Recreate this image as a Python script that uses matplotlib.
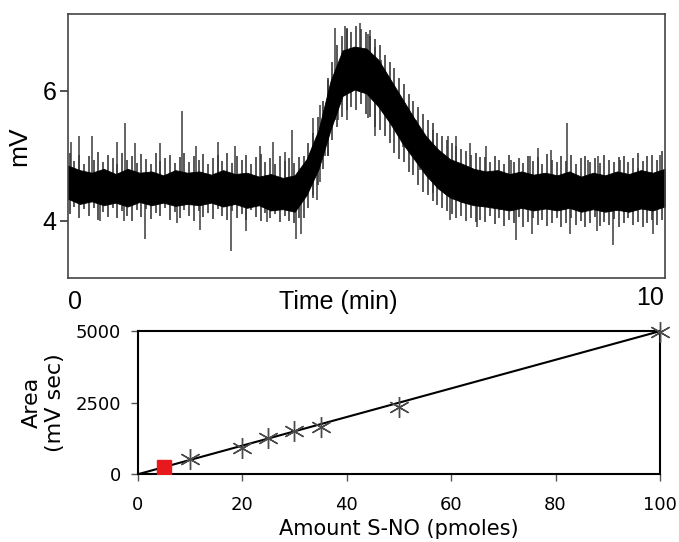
import numpy as np
import matplotlib
matplotlib.use("Agg")
import matplotlib.pyplot as plt

# --- top trace: dense core of the signal (min, mV) ---
core_t = [0.0, 0.2, 0.4, 0.6, 0.8, 1.0, 1.2, 1.4, 1.6, 1.8, 2.0, 2.2, 2.4, 2.6, 2.8,
          3.0, 3.2, 3.4, 3.6, 3.8, 4.0, 4.2, 4.4, 4.6, 4.8, 5.0, 5.2, 5.4, 5.6, 5.8,
          6.0, 6.2, 6.4, 6.6, 6.8, 7.0, 7.2, 7.4, 7.6, 7.8, 8.0, 8.2, 8.4, 8.6, 8.8,
          9.0, 9.2, 9.4, 9.6, 9.8, 10.0]
core_hi = [4.85, 4.78, 4.74, 4.80, 4.72, 4.80, 4.74, 4.76, 4.70, 4.78, 4.74, 4.76, 4.71, 4.78, 4.72,
           4.74, 4.68, 4.72, 4.66, 4.70, 4.95, 5.40, 6.15, 6.62, 6.68, 6.65, 6.48, 6.18, 5.88, 5.58,
           5.30, 5.10, 4.95, 4.88, 4.80, 4.76, 4.78, 4.72, 4.76, 4.71, 4.74, 4.70, 4.76, 4.68, 4.74,
           4.70, 4.76, 4.72, 4.78, 4.74, 4.80]
core_lo = [4.34, 4.26, 4.30, 4.24, 4.28, 4.22, 4.29, 4.24, 4.28, 4.23, 4.26, 4.24, 4.28, 4.22, 4.26,
           4.20, 4.24, 4.16, 4.18, 4.14, 4.40, 4.80, 5.40, 5.92, 6.02, 5.96, 5.76, 5.50, 5.20, 4.95,
           4.70, 4.50, 4.36, 4.29, 4.24, 4.22, 4.19, 4.16, 4.20, 4.16, 4.19, 4.16, 4.20, 4.14, 4.18,
           4.14, 4.17, 4.14, 4.19, 4.16, 4.22]

# --- top trace: fringe of short strokes around the core (min, low mV, high mV) ---
fringe_t = [0.03, 0.11, 0.19, 0.27, 0.35, 0.43, 0.51, 0.59, 0.67, 0.75, 0.83, 0.91, 0.99, 1.07,
            1.15, 1.23, 1.31, 1.39, 1.47, 1.55, 1.63, 1.71, 1.79, 1.87, 1.95, 2.03, 2.11, 2.19,
            2.27, 2.35, 2.43, 2.51, 2.59, 2.67, 2.75, 2.83, 2.91, 2.99, 3.07, 3.15, 3.23, 3.31,
            3.39, 3.47, 3.55, 3.63, 3.71, 3.79, 3.87,
            3.95, 4.03, 4.11, 4.19, 4.27, 4.35, 4.43, 4.51, 4.59, 4.67, 4.75, 4.83, 4.91, 4.99,
            5.07, 5.15, 5.23, 5.31, 5.39, 5.47, 5.55, 5.63, 5.71, 5.79, 5.87, 5.95, 6.03, 6.11,
            6.19, 6.27, 6.35, 6.43, 6.51, 6.59, 6.67, 6.75, 6.83, 6.91,
            6.99, 7.07, 7.15, 7.23, 7.31, 7.39, 7.47, 7.55, 7.63, 7.71, 7.79, 7.87, 7.95, 8.03,
            8.11, 8.19, 8.27, 8.35, 8.43, 8.51, 8.59, 8.67, 8.75, 8.83, 8.91, 8.99, 9.07, 9.15,
            9.23, 9.31, 9.39, 9.47, 9.55, 9.63, 9.71, 9.79, 9.87, 9.95]
fringe_lo = [4.10, 4.22, 4.05, 4.18, 4.08, 4.20, 4.02, 4.14, 4.06, 4.19, 4.04, 4.15, 4.08, 4.00,
             4.16, 4.06, 4.18, 4.03, 4.12, 4.07, 4.20, 4.02, 4.13, 4.05, 4.17, 4.08, 4.00, 4.15,
             4.06, 4.12, 4.03, 4.18, 4.07, 4.01, 4.15, 4.05, 4.11, 4.02, 4.16, 4.06, 4.00, 4.12,
             4.04, 4.10, 3.98, 4.08, 4.00, 3.96, 4.04,
             4.05, 4.20, 4.35, 4.55, 4.80, 5.00, 5.25, 5.45, 5.60, 5.70, 5.75, 5.70, 5.80, 5.65,
             5.60, 5.45, 5.40, 5.30, 5.20, 5.05, 4.95, 4.90, 4.75, 4.70, 4.55, 4.45, 4.40, 4.30,
             4.25, 4.20, 4.15, 4.10, 4.05, 4.08, 4.00, 4.05, 3.98, 4.02,
             3.98, 4.08, 3.95, 4.04, 3.92, 4.02, 3.96, 4.06, 3.90, 3.98, 4.05, 3.94, 4.02, 3.92,
             3.97, 4.05, 3.90, 3.96, 4.04, 3.93, 3.99, 3.91, 3.97, 4.06, 3.92, 3.98, 3.94, 4.03,
             3.90, 3.96, 4.04, 3.93, 3.98, 3.91, 3.97, 4.02, 3.94, 4.02]
fringe_hi = [5.05, 4.92, 5.02, 4.88, 5.00, 4.94, 5.06, 4.90, 5.01, 4.96, 4.88, 5.04, 4.93, 5.00,
             4.89, 5.03, 4.95, 4.88, 5.05, 4.92, 4.97, 5.02, 4.89, 4.98, 5.04, 4.90, 5.00, 4.93,
             5.03, 4.88, 4.97, 5.01, 4.92, 5.05, 4.89, 4.99, 4.93, 5.02, 4.88, 4.98, 5.03, 4.90,
             4.96, 4.87, 5.00, 4.92, 4.97, 4.89, 4.98,
             5.00, 5.20, 5.35, 5.60, 5.85, 6.20, 6.45, 6.70, 6.85, 6.95, 6.90, 7.00, 6.95, 6.90,
             6.85, 6.80, 6.70, 6.55, 6.45, 6.35, 6.20, 6.10, 5.95, 5.85, 5.75, 5.65, 5.55, 5.50,
             5.35, 5.30, 5.25, 5.20, 5.15, 5.10, 5.08, 5.02, 5.05, 4.98,
             4.98, 4.90, 5.00, 4.93, 4.88, 5.02, 4.91, 4.97, 4.89, 5.00, 4.92, 4.98, 4.88, 5.03,
             4.93, 4.90, 4.99, 4.92, 5.01, 4.88, 4.96, 5.00, 4.91, 4.97, 4.89, 5.02, 4.93, 4.90,
             4.98, 5.00, 4.91, 4.96, 5.04, 4.92, 4.99, 5.02, 4.93, 5.08]

# --- top trace: single spikes sticking out further (min, low mV, high mV) ---
spike_t = [0.06, 0.18, 0.40, 0.82, 0.95, 1.12, 1.55, 1.92, 2.14, 2.52, 2.80, 3.22, 3.44, 3.63, 3.75,
           0.54, 0.94, 1.30, 1.82, 2.21, 2.74, 2.99, 3.33, 3.83, 3.91,
           4.11, 4.22, 4.36, 4.47, 4.67, 4.89, 5.03, 4.17, 4.31, 4.53, 5.14, 4.64, 5.06, 5.25,
           5.39, 5.62, 5.67, 5.84, 5.90, 6.12, 6.37, 6.40, 6.51, 6.73, 6.85, 7.01, 7.43, 7.51,
           7.74, 7.77, 7.88, 8.10, 8.36, 8.41, 8.72, 8.86, 8.88, 9.14, 9.25, 9.55, 9.80, 9.92]
spike_lo = [4.40, 4.40, 4.40, 4.40, 4.40, 4.40, 4.40, 4.40, 4.40, 4.40, 4.40, 4.40, 4.30, 4.30, 4.30,
            3.99, 4.00, 3.72, 3.97, 3.86, 3.53, 3.85, 3.98, 3.72, 3.80,
            4.40, 4.60, 5.00, 5.55, 5.55, 6.00, 5.58, 4.32, 4.99, 5.55, 5.30, 6.00, 6.00, 5.80,
            5.60, 5.14, 5.14, 5.00, 4.78, 4.43, 4.50, 4.02, 4.50, 4.40, 3.91, 4.40, 4.40, 3.71,
            4.40, 3.80, 4.40, 4.40, 4.40, 3.80, 4.40, 3.85, 4.40, 3.63, 4.40, 4.40, 3.80, 4.40]
spike_hi = [5.22, 5.30, 5.30, 5.22, 5.50, 5.20, 5.20, 5.69, 5.15, 5.21, 5.15, 5.15, 5.22, 5.06, 5.40,
            4.60, 4.60, 4.60, 4.60, 4.60, 4.60, 4.60, 4.50, 4.50, 4.50,
            5.58, 5.78, 6.17, 6.96, 6.96, 7.04, 6.88, 4.90, 5.50, 6.30, 6.68, 6.99, 6.94, 6.48,
            6.17, 5.86, 5.70, 5.55, 5.30, 5.40, 5.30, 4.70, 5.30, 5.20, 4.50, 5.15, 4.94, 4.50,
            5.00, 4.50, 5.12, 5.09, 5.50, 4.50, 4.94, 4.50, 5.00, 4.50, 4.94, 4.81, 4.50, 5.02]

# --- bottom: calibration ---
amount = [10, 20, 25, 30, 35, 50, 100]
area = [549, 933, 1270, 1515, 1655, 2355, 4977]
sample_amount = [5]
sample_area = [256]
fit_x = [0, 100]
fit_y = [0, 5000]

fig = plt.figure(figsize=(6.79, 5.42), dpi=100)

ax1 = fig.add_axes([0.100, 0.487, 0.879, 0.487])
ax1.vlines(fringe_t, fringe_lo, fringe_hi, color="#2a2a2a", lw=1.1, zorder=1)
ax1.vlines(spike_t, spike_lo, spike_hi, color="#3a3a3a", lw=1.1, zorder=1)
ax1.fill_between(core_t, core_lo, core_hi, color="black", lw=0.6, edgecolor="black", zorder=2)
ax1.set_xlim(0, 10)
ax1.set_ylim(3.12, 7.18)
ax1.set_xticks([])
ax1.set_yticks([4, 6])
ax1.tick_params(axis="y", direction="out", length=6, width=1.2, pad=2,
                labelsize=18, color="#333333")
for lab in ax1.get_yticklabels():
    lab.set_family("Liberation Sans")
for sp in ax1.spines.values():
    sp.set_color("#444444")
    sp.set_linewidth(1.2)
ax1.set_ylabel("mV", fontsize=19, family="Liberation Sans", labelpad=8)

fig.text(75 / 679, 1 - 302 / 542, "0", fontsize=18, family="Liberation Sans",
         ha="center", va="center")
fig.text(650 / 679, 1 - 298 / 542, "10", fontsize=18, family="Liberation Sans",
         ha="center", va="center")
fig.text(338 / 679, 1 - 302 / 542, "Time (min)", fontsize=18, family="Liberation Sans",
         ha="center", va="center")

ax2 = fig.add_axes([0.203, 0.125, 0.769, 0.264])
ax2.plot(fit_x, fit_y, color="black", lw=1.5, zorder=2)
ax2.plot(amount, area, linestyle="none", marker=(6, 2, 0), markersize=15,
         markeredgewidth=1.0, color="#4a4a4a", zorder=3, clip_on=False)
ax2.plot(sample_amount, sample_area, linestyle="none", marker="s", markersize=10,
         color="#e8191c", zorder=4)
ax2.set_xlim(0, 100)
ax2.set_ylim(0, 5000)
ax2.set_xticks([0, 20, 40, 60, 80, 100])
ax2.set_yticks([0, 2500, 5000])
ax2.tick_params(direction="out", length=5, width=1.0, labelsize=13, color="#555555")
ax2.tick_params(axis="x", pad=11)
ax2.tick_params(axis="y", pad=7)
for sp in ax2.spines.values():
    sp.set_linewidth(1.5)
ax2.set_xlabel("Amount S-NO (pmoles)", fontsize=15, labelpad=3)
ax2.set_ylabel("Area\n(mV sec)", fontsize=16, linespacing=1.15, labelpad=8)

fig.savefig("out.png", dpi=100)
